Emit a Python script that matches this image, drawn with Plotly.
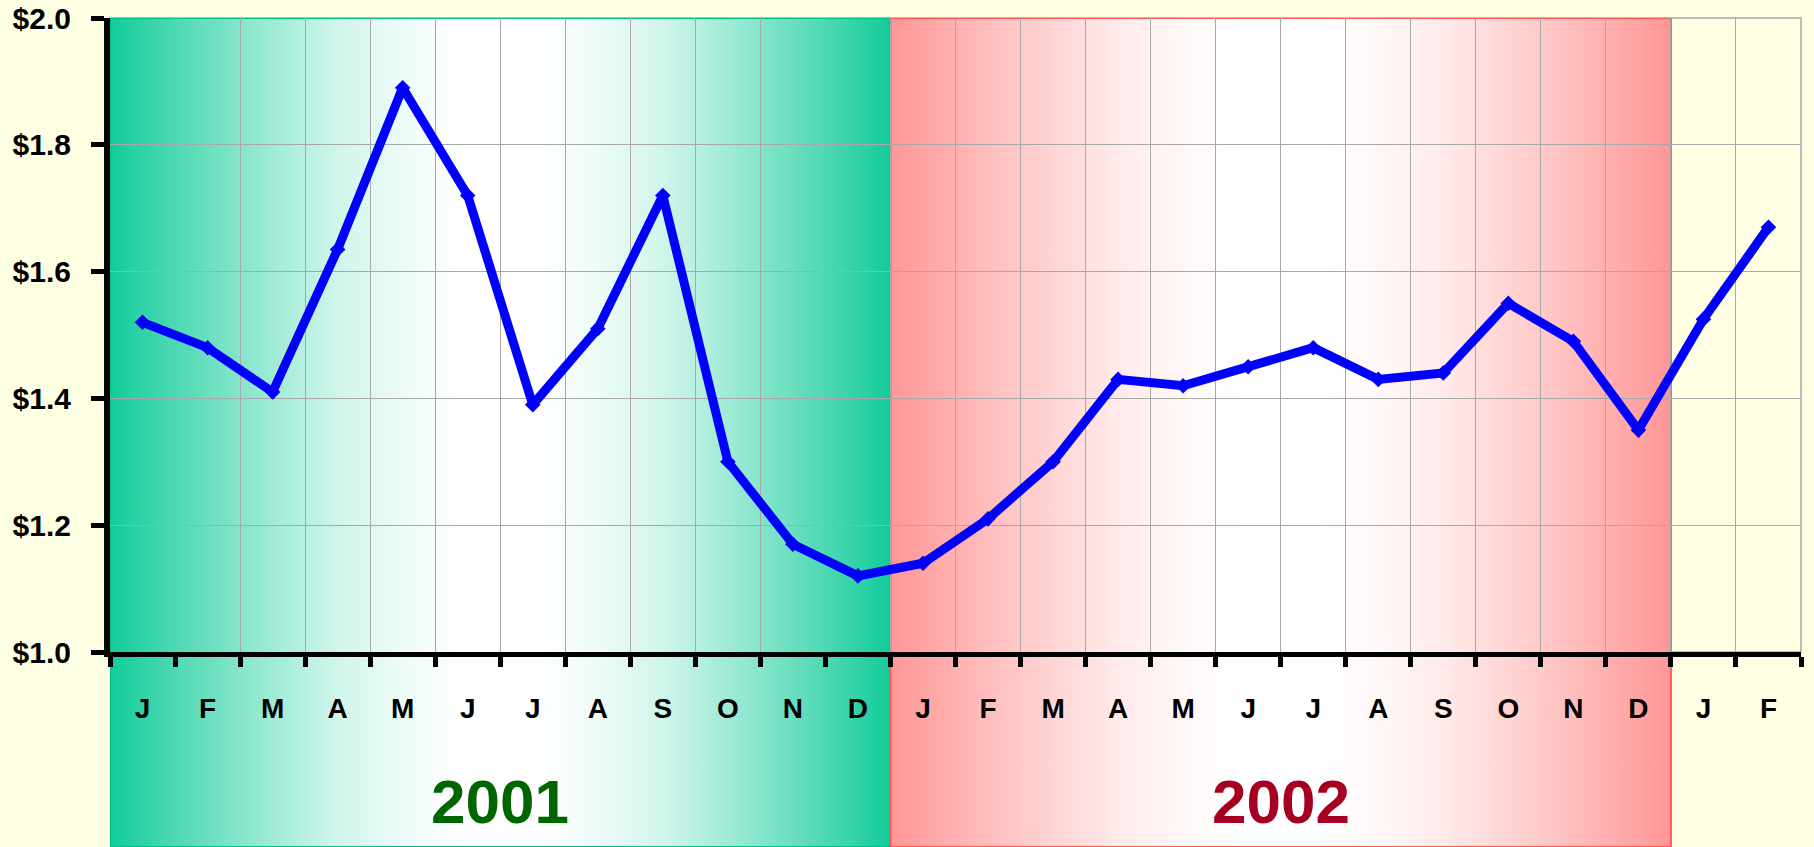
import plotly.graph_objects as go

# ---- data ----
months = ["J", "F", "M", "A", "M", "J", "J", "A", "S", "O", "N", "D",
          "J", "F", "M", "A", "M", "J", "J", "A", "S", "O", "N", "D",
          "J", "F"]
prices = [1.52, 1.48, 1.41, 1.635, 1.89, 1.72, 1.39, 1.51, 1.72, 1.30, 1.17, 1.12,
          1.14, 1.21, 1.30, 1.43, 1.42, 1.45, 1.48, 1.43, 1.44, 1.55, 1.49, 1.35,
          1.525, 1.67]
years = ["2001", "2002"]
year_first_month = [0, 12]
year_month_count = [12, 12]
y_tick_values = [1.0, 1.2, 1.4, 1.6, 1.8, 2.0]
y_tick_labels = ["$1.0", "$1.2", "$1.4", "$1.6", "$1.8", "$2.0"]

# ---- styles ----
W, H = 1814, 847
M_L, M_R, M_T, M_B = 110, 13, 18, 0
AXIS_BOTTOM_PX = 652
BG = "#FFFFE3"
GRID = "#A8A8A8"
FONT = "Arial, Liberation Sans, sans-serif"
band_edge = [(18, 204, 154), (255, 150, 150)]
band_line = ["#00C08C", "#FF5A5A"]
year_colors = ["#006600", "#A50021"]
# fraction of edge colour vs position across half the band (0 = edge, 0.5 = centre)
grad_pos = [0.0, 0.12, 0.21, 0.29, 0.37, 0.45, 0.5]
grad_mix = [1.0, 0.64, 0.40, 0.20, 0.08, 0.0, 0.0]


def gradient_scale(rgb):
    stops = []
    for p, f in zip(grad_pos, grad_mix):
        c = tuple(round(255 + (v - 255) * f) for v in rgb)
        stops.append((p, "rgb(%d,%d,%d)" % c))
    mirrored = [(1 - p, c) for p, c in reversed(stops) if p < 0.5]
    return [[p, c] for p, c in stops + mirrored]


n = len(months)
idx = list(range(n))
plot_h = H - M_T - M_B
main_bottom = (H - M_B - AXIS_BOTTOM_PX) / plot_h

fig = go.Figure()

# background year bands (full-height subplot x/y)
for k, yr in enumerate(years):
    x0 = year_first_month[k] - 0.5
    x1 = x0 + year_month_count[k]
    fig.add_trace(go.Scatter(
        x=[x0, x1, x1, x0, x0], y=[0, 0, 1, 1, 0],
        xaxis="x", yaxis="y", mode="lines", fill="toself",
        line=dict(color=band_line[k], width=2),
        fillgradient=dict(type="horizontal", colorscale=gradient_scale(band_edge[k])),
        hoverinfo="skip", showlegend=False))
    fig.add_annotation(x=(x0 + x1) / 2, y=0.055, xref="x", yref="y",
                       text=yr, showarrow=False, yanchor="middle",
                       font=dict(family=FONT, size=62, color=year_colors[k], weight="bold"))

# price line (main subplot x2/y2)
fig.add_trace(go.Scatter(
    x=idx, y=prices, xaxis="x2", yaxis="y2", mode="lines+markers",
    line=dict(color="#0000FF", width=9),
    marker=dict(symbol="diamond", size=12, color="#0000FF"),
    showlegend=False, cliponaxis=False))

fig.add_shape(type="rect", xref="x2 domain", yref="y2 domain",
              x0=0, x1=1, y0=0, y1=1, layer="below",
              line=dict(color=GRID, width=1.5))

fig.update_layout(
    width=W, height=H, autosize=False,
    margin=dict(l=M_L, r=M_R, t=M_T, b=M_B, pad=0, autoexpand=False),
    paper_bgcolor=BG, plot_bgcolor="rgba(0,0,0,0)",
    showlegend=False,
    xaxis=dict(domain=[0, 1], range=[-0.5, n - 0.5], visible=False,
               fixedrange=True, automargin=False),
    yaxis=dict(domain=[0, 1], range=[0, 1], visible=False,
               fixedrange=True, automargin=False),
    xaxis2=dict(domain=[0, 1], anchor="y2", range=[-0.5, n - 0.5], automargin=False,
                tickmode="array", tickvals=idx, ticktext=months, ticks="",
                showgrid=False, zeroline=False,
                showline=True, linecolor="black", linewidth=5,
                ticklabelstandoff=27,
                tickfont=dict(family=FONT, size=28, color="black", weight="bold"),
                minor=dict(tickmode="array", tickvals=[i - 0.5 for i in range(n + 1)],
                           ticks="outside", ticklen=10, tickwidth=5, tickcolor="black",
                           showgrid=True, gridcolor=GRID, gridwidth=1)),
    yaxis2=dict(domain=[main_bottom, 1], anchor="x2", range=[1.0, 2.0], automargin=False,
                tickmode="array", tickvals=y_tick_values, ticktext=y_tick_labels,
                ticks="outside", ticklen=13, tickwidth=5, tickcolor="black",
                showline=True, linecolor="black", linewidth=6,
                showgrid=True, gridcolor=GRID, gridwidth=1, zeroline=False,
                ticklabelstandoff=14,
                tickfont=dict(family=FONT, size=30, color="black", weight="bold")),
)

fig.write_html("out.html",
               config={"displayModeBar": False},
               post_script="document.body.style.margin='0';"
                           "document.body.style.background='%s';" % BG)
